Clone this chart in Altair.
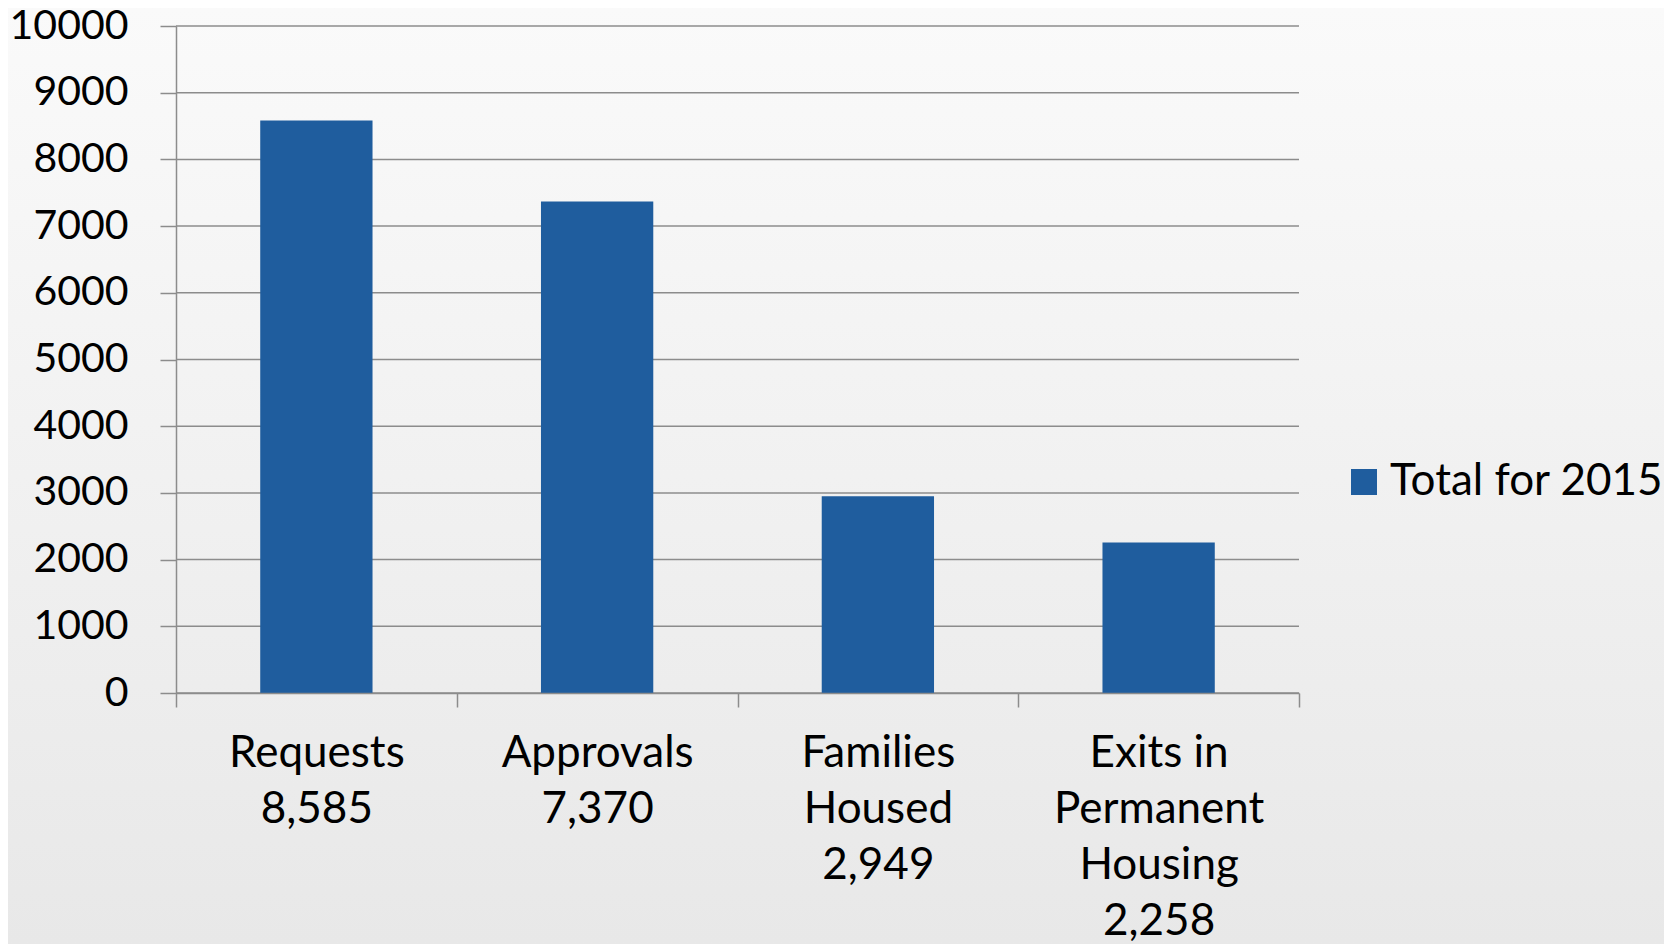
import altair as alt
import pandas as pd

# ---- data ----
categories = ["Requests", "Approvals", "Families Housed", "Exits in Permanent Housing"]
label_lines = ["Requests|8,585", "Approvals|7,370", "Families|Housed|2,949",
               "Exits in|Permanent|Housing|2,258"]
values = [8585, 7370, 2949, 2258]
series_name = "Total for 2015"
y_ticks = [0, 1000, 2000, 3000, 4000, 5000, 6000, 7000, 8000, 9000, 10000]

df = pd.DataFrame({"category": categories, "label": label_lines,
                   "value": values, "series": [series_name] * len(values)})
grid_df = pd.DataFrame({"value": y_ticks})
bg_df = pd.DataFrame({"a": [0]})

W, H = 1123, 667
PAD = dict(left=168, top=18, right=365, bottom=251)
FONT = "Lato"
FS = 44
GRID = "#8c8c8c"
BAR = "#1f5d9e"

xscale = alt.Scale(paddingInner=0, paddingOuter=0)
yscale = alt.Scale(domain=[0, 10000], nice=False)

y_axis = alt.Axis(title=None, values=y_ticks, grid=False, format="d",
                  tickSize=16, tickColor=GRID, tickWidth=1.5,
                  domainColor=GRID, domainWidth=1.5,
                  labelFont=FONT, labelFontSize=41, labelPadding=32,
                  labelColor="black", zindex=1)

bg = alt.Chart(bg_df).mark_rect(
    clip=False,
    color=alt.LinearGradient(
        gradient="linear",
        stops=[alt.GradientStop(color="#fafafa", offset=0),
               alt.GradientStop(color="#e8e8e8", offset=1)],
        x1=0, x2=0, y1=0, y2=1),
).encode(
    x=alt.value(-PAD["left"]), x2=alt.value(W + PAD["right"]),
    y=alt.value(-PAD["top"]), y2=alt.value(H + PAD["bottom"]),
)

grid = alt.Chart(grid_df).mark_rule(color=GRID, strokeWidth=1.5).encode(
    y=alt.Y("value:Q", scale=yscale, axis=y_axis)
)

bars = alt.Chart(df).mark_bar(width=alt.RelativeBandSize(0.4)).encode(
    x=alt.X("label:N", sort=None, scale=xscale,
            axis=alt.Axis(title=None, labelAngle=0,
                          labelExpr="split(datum.label, '|')",
                          labelFont=FONT, labelFontSize=FS, labelLineHeight=56,
                          labelPadding=24, labelLimit=600, labelOverlap=False,
                          labelColor="black",
                          tickBand="extent", tickSize=14, tickColor=GRID,
                          tickWidth=1.5, domainColor=GRID, domainWidth=1.5,
                          zindex=1)),
    y=alt.Y("value:Q", scale=yscale, axis=y_axis),
    color=alt.Color("series:N", scale=alt.Scale(range=[BAR]),
                    legend=alt.Legend(title=None, orient="none",
                                      legendX=1166, legendY=434,
                                      symbolType="square", symbolSize=676,
                                      symbolStrokeWidth=0,
                                      labelFont=FONT, labelFontSize=FS,
                                      labelOffset=4, labelLimit=0,
                                      labelColor="black")),
)

chart = alt.layer(bg, grid, bars).properties(
    width=W, height=H, padding=PAD, autosize="none",
    background="#f1f1f1",
).configure_view(stroke=None)

chart.save("out.html", embed_options={"renderer": "svg", "actions": False})
